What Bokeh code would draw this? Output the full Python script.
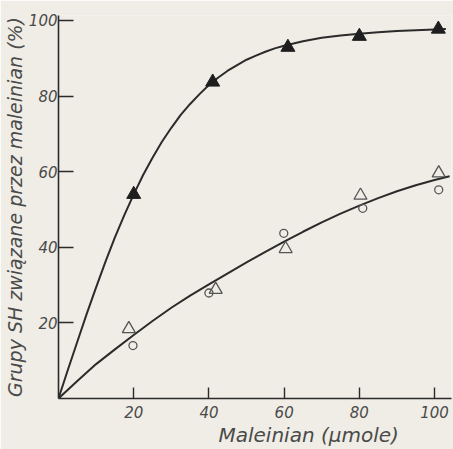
from bokeh.plotting import figure
from bokeh.models import FixedTicker, Range1d, Title
from bokeh.embed import file_html
from bokeh.resources import INLINE

# Upper fitted curve and its measured points (filled triangles)
upper_curve_x = [0, 2.5, 5, 7.5, 10, 12.5, 15, 17.5, 20, 22.5, 25, 27.5, 30, 32.5, 35, 37.5, 40,
                 42.5, 45, 47.5, 50, 52.5, 55, 57.5, 60, 65, 70, 75, 80, 85, 90, 95, 100, 103]
upper_curve_y = [0, 7.6, 15.0, 22.4, 29.4, 36.2, 42.6, 48.5, 54.0, 59.1, 63.7, 67.9, 71.6, 75.0,
                 77.9, 80.5, 82.9, 84.9, 86.7, 88.2, 89.6, 90.7, 91.7, 92.6, 93.3, 94.5,
                 95.4, 96.0, 96.5, 96.9, 97.2, 97.4, 97.6, 97.7]
filled_tri_x = [20, 41, 61, 80, 101]
filled_tri_y = [54.0, 83.7, 92.9, 95.8, 97.7]

# Lower fitted curve and its two measured series (open triangles, open circles)
lower_curve_x = [0, 5, 10, 15, 20, 25, 30, 35, 40, 45, 50, 55, 60, 65, 70, 75, 80, 85, 90, 95, 100, 104]
lower_curve_y = [0, 4.6, 9.1, 13.0, 16.8, 20.5, 24.0, 27.2, 30.2, 33.1, 36.0, 38.8, 41.5, 44.1,
                 46.6, 48.9, 51.0, 53.0, 54.8, 56.4, 57.8, 58.8]
open_tri_x = [18.7, 41.8, 60.4, 80.3, 101.1]
open_tri_y = [18.4, 28.8, 39.6, 53.7, 59.6]
circle_x = [19.8, 40.0, 59.9, 80.9, 101.1]
circle_y = [14.0, 27.9, 43.7, 50.3, 55.2]

tick_values = [20, 40, 60, 80, 100]

BG = "#efede5"
INK = "#2b2b2b"
TXT = "#4a4a4a"
FONT = "DejaVu Sans"

p = figure(width=453, height=449, output_backend="svg", toolbar_location=None,
           x_range=Range1d(0, 104.5), y_range=Range1d(0, 101.3),
           min_border_left=58, min_border_right=2, min_border_top=15, min_border_bottom=51)
p.background_fill_color = BG
p.border_fill_color = BG
p.outline_line_color = None
p.grid.visible = False

for ax in (p.xaxis[0], p.yaxis[0]):
    ax.ticker = FixedTicker(ticks=tick_values)
    ax.minor_tick_line_color = None
    ax.axis_line_color = INK
    ax.axis_line_width = 1.6
    ax.major_tick_line_color = INK
    ax.major_tick_line_width = 1.4
    ax.major_tick_out = 0
    ax.major_label_text_font = FONT
    ax.major_label_text_font_style = "italic"
    ax.major_label_text_font_size = "15px"
    ax.major_label_text_color = TXT

p.xaxis.major_tick_in = 11
p.xaxis.major_label_standoff = 7
p.yaxis.major_tick_in = 15
p.yaxis.major_label_standoff = 1

p.yaxis.axis_label = "Grupy SH związane przez maleinian (%)"
p.yaxis.axis_label_text_font = FONT
p.yaxis.axis_label_text_font_style = "italic"
p.yaxis.axis_label_text_font_size = "19px"
p.yaxis.axis_label_text_color = TXT
p.yaxis.axis_label_standoff = 0

# x-axis title sits right of centre, so it goes in as a shifted bottom title
p.add_layout(Title(text="Maleinian (µmole)", align="left", offset=160,
                   text_font=FONT, text_font_style="italic", text_font_size="20px",
                   text_color=TXT, standoff=0), "below")

p.line(upper_curve_x, upper_curve_y, line_color=INK, line_width=2)
p.line(lower_curve_x, lower_curve_y, line_color=INK, line_width=2)

p.scatter(filled_tri_x, filled_tri_y, marker="triangle", size=14,
          fill_color="#1e1e1e", line_color="#1e1e1e")
p.scatter(open_tri_x, open_tri_y, marker="triangle", size=13,
          fill_color=None, line_color="#555555", line_width=1.3)
p.scatter(circle_x, circle_y, marker="circle", size=8,
          fill_color=None, line_color="#555555", line_width=1.3)

open("out.html", "w").write(file_html(p, INLINE))
